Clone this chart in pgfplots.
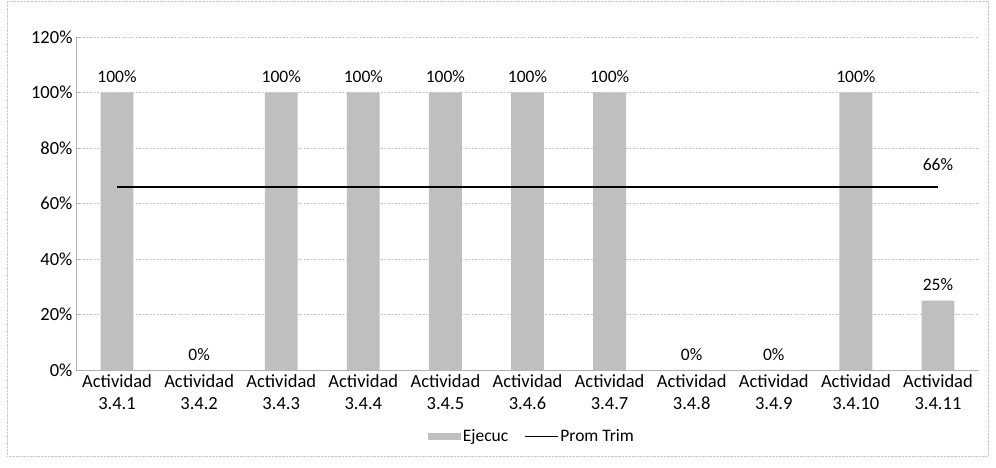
\documentclass[border=0pt]{standalone}
\usepackage{pgfplots}
\pgfplotsset{compat=1.18}
\usepackage{fontspec}
\setmainfont{Carlito}
\begin{document}
\begin{tikzpicture}
\useasboundingbox (-76pt,-98pt) rectangle (920pt,370pt);
\draw[gray!45, densely dotted] (-69pt,-86pt) rectangle (912pt,369pt);
\begin{axis}[
  at={(0pt,0pt)}, anchor=south west,
  width=903pt, height=333pt, scale only axis,
  xmin=-0.5, xmax=10.5, ymin=0, ymax=120,
  ytick={0,20,...,120},
  yticklabel={\pgfmathprintnumber{\tick}\%},
  /pgf/number format/assume math mode=true,
  xtick={0,...,10},
  xticklabels={{Actividad\\3.4.1},{Actividad\\3.4.2},{Actividad\\3.4.3},{Actividad\\3.4.4},{Actividad\\3.4.5},{Actividad\\3.4.6},{Actividad\\3.4.7},{Actividad\\3.4.8},{Actividad\\3.4.9},{Actividad\\3.4.10},{Actividad\\3.4.11}},
  x tick label style={align=center, font=\fontsize{18.5}{22}\selectfont, yshift=-1pt},
  y tick label style={font=\fontsize{18.5}{20}\selectfont},
  axis x line*=bottom, axis y line*=left,
  axis line style={gray!60},
  major tick length=4pt,
  xtick style={draw=none},
  ytick style={gray!60},
  ymajorgrids, major grid style={gray!45, dash pattern=on 2pt off 1.5pt},
  legend style={at={(0.505,-0.2)}, anchor=center, draw=none, legend columns=2,
    font=\fontsize{17.5}{19}\selectfont, /tikz/every even column/.append style={column sep=14pt}},
  legend image code/.code={},
]
\addplot[ybar, bar width=0.4, fill=black!25, draw=none,
  nodes near coords={\pgfmathprintnumber{\pgfplotspointmeta}\%},
  nodes near coords style={font=\fontsize{17.5}{19}\selectfont, yshift=6pt},
  legend image code/.code={\fill[black!25] (0cm,-0.12cm) rectangle (1.15cm,0.12cm);}]
  coordinates {(0,100) (1,0) (2,100) (3,100) (4,100) (5,100) (6,100) (7,0) (8,0) (9,100) (10,25)};
\addlegendentry{Ejecuc}
\addplot[black, line width=1.4pt,
  legend image code/.code={\draw[black, line width=1.4pt] (0cm,0cm) -- (1.15cm,0cm);}]
  coordinates {(0,66) (10,66)}
  node[pos=1, above, yshift=12pt, font=\fontsize{17.5}{19}\selectfont] {66\%};
\addlegendentry{Prom Trim}
\end{axis}
\end{tikzpicture}
\end{document}
